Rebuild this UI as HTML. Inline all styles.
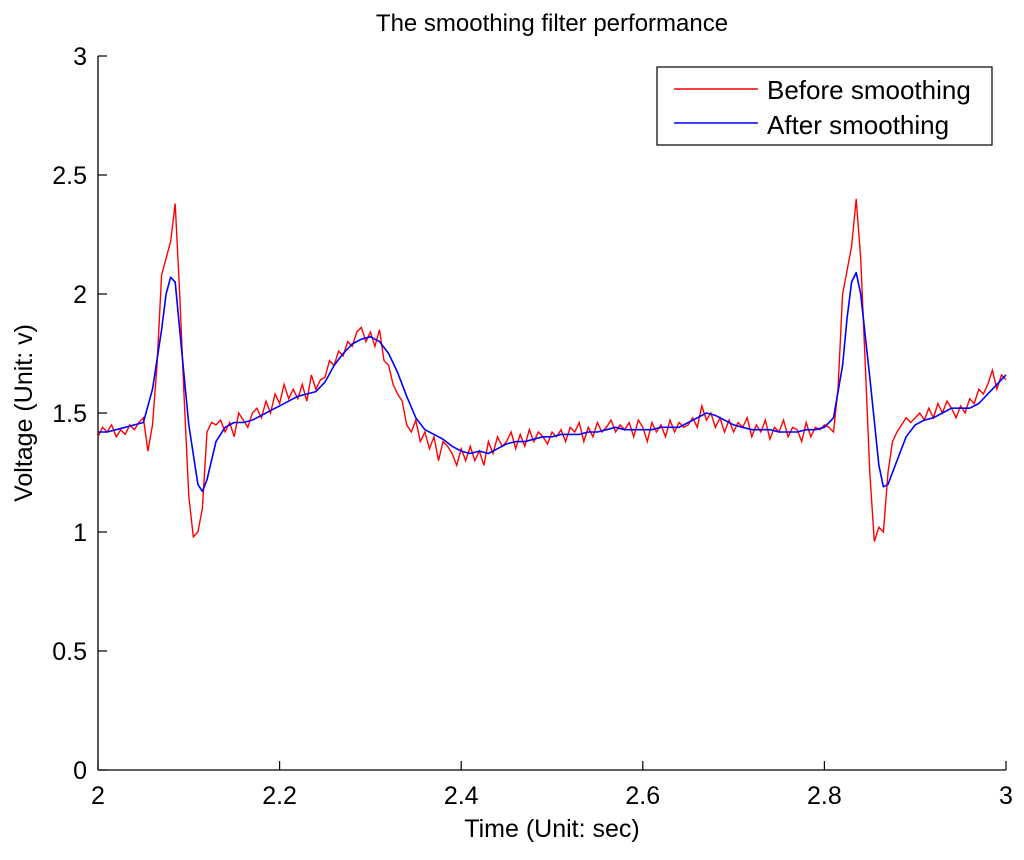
<!DOCTYPE html>
<html><head><meta charset="utf-8"><style>
body{margin:0;background:#fff;}
svg text{font-family:"Liberation Sans",sans-serif;fill:#000;}
</style></head><body>
<svg id="chart" width="1024" height="855" xmlns="http://www.w3.org/2000/svg">
<text x="552" y="31" font-size="24" text-anchor="middle">The smoothing filter performance</text>
<g id="axes"></g>
<g id="series"></g>
<g>
<rect x="657" y="67" width="335" height="78" fill="#fff" stroke="#000" stroke-width="1.2"/>
<line x1="674" y1="89" x2="758" y2="89" stroke="#f00" stroke-width="1.4"/>
<text x="767" y="99" font-size="26">Before smoothing</text>
<line x1="674" y1="123" x2="758" y2="123" stroke="#00f" stroke-width="1.4"/>
<text x="767" y="134" font-size="26">After smoothing</text>
</g>
<text x="552" y="837" font-size="25" text-anchor="middle">Time (Unit: sec)</text>
<text x="32" y="413" font-size="25" text-anchor="middle" transform="rotate(-90 32 413)">Voltage (Unit: v)</text>
</svg>
<script>
const xTicks=[2,2.2,2.4,2.6,2.8,3];
const xTickLabels=["2","2.2","2.4","2.6","2.8","3"];
const yTicks=[0,0.5,1,1.5,2,2.5,3];
const yTickLabels=["0","0.5","1","1.5","2","2.5","3"];
const redStart=2.0, redStep=0.005;
const redValues=[1.40,1.44,1.42,1.45,1.40,1.43,1.41,1.45,1.43,1.46,
1.48,1.34,1.45,1.70,2.08,2.15,2.22,2.38,2.00,1.55,
1.15,0.98,1.00,1.10,1.42,1.46,1.45,1.47,1.42,1.46,
1.40,1.50,1.47,1.44,1.50,1.52,1.48,1.55,1.50,1.58,
1.54,1.62,1.56,1.60,1.56,1.62,1.55,1.66,1.60,1.64,
1.65,1.72,1.70,1.76,1.74,1.80,1.78,1.84,1.86,1.80,
1.84,1.78,1.85,1.72,1.70,1.62,1.58,1.55,1.45,1.42,
1.47,1.38,1.42,1.35,1.40,1.30,1.38,1.36,1.33,1.28,
1.35,1.30,1.36,1.30,1.34,1.28,1.38,1.33,1.40,1.36,
1.38,1.42,1.35,1.41,1.36,1.43,1.38,1.42,1.40,1.37,
1.42,1.40,1.43,1.38,1.44,1.42,1.46,1.38,1.44,1.40,
1.46,1.42,1.44,1.47,1.42,1.45,1.43,1.46,1.40,1.47,
1.44,1.38,1.46,1.42,1.45,1.40,1.47,1.42,1.46,1.44,
1.45,1.48,1.44,1.53,1.47,1.50,1.44,1.48,1.42,1.47,
1.42,1.46,1.44,1.48,1.40,1.45,1.42,1.47,1.39,1.44,
1.42,1.47,1.40,1.44,1.43,1.38,1.46,1.40,1.44,1.43,
1.45,1.44,1.42,1.60,2.00,2.10,2.20,2.40,2.15,1.70,
1.25,0.96,1.02,1.00,1.25,1.38,1.42,1.45,1.48,1.46,
1.48,1.50,1.47,1.52,1.48,1.54,1.50,1.55,1.52,1.48,
1.53,1.50,1.56,1.54,1.60,1.58,1.62,1.68,1.60,1.66,1.64];
const blueTimes=[2.00,2.01,2.02,2.03,2.04,2.05,2.06,2.07,2.075,2.08,2.085,2.09,2.10,2.11,2.115,2.12,2.13,2.14,2.15,2.16,2.17,2.18,2.19,2.20,2.21,2.22,2.23,2.24,2.25,2.26,2.27,2.28,2.29,2.30,2.31,2.32,2.33,2.34,2.35,2.36,2.37,2.38,2.39,2.40,2.41,2.42,2.43,2.44,2.45,2.46,2.47,2.48,2.49,2.50,2.51,2.52,2.53,2.54,2.55,2.56,2.57,2.58,2.59,2.60,2.61,2.62,2.63,2.64,2.65,2.66,2.67,2.68,2.69,2.70,2.71,2.72,2.73,2.74,2.75,2.76,2.77,2.78,2.79,2.80,2.81,2.82,2.825,2.83,2.835,2.84,2.85,2.86,2.865,2.87,2.88,2.89,2.90,2.91,2.92,2.93,2.94,2.95,2.96,2.97,2.98,2.99,3.00];
const blueValues=[1.42,1.42,1.43,1.44,1.45,1.46,1.60,1.85,2.00,2.07,2.05,1.85,1.45,1.20,1.17,1.22,1.38,1.44,1.46,1.46,1.47,1.49,1.51,1.53,1.55,1.57,1.58,1.59,1.63,1.70,1.75,1.79,1.81,1.82,1.80,1.75,1.67,1.57,1.48,1.43,1.41,1.39,1.36,1.34,1.33,1.34,1.33,1.35,1.37,1.38,1.38,1.39,1.40,1.40,1.41,1.41,1.41,1.42,1.42,1.43,1.44,1.43,1.43,1.43,1.43,1.44,1.44,1.44,1.46,1.48,1.50,1.49,1.47,1.45,1.44,1.43,1.43,1.43,1.42,1.42,1.42,1.43,1.43,1.44,1.48,1.70,1.90,2.05,2.09,2.00,1.65,1.28,1.19,1.20,1.30,1.40,1.45,1.47,1.48,1.50,1.52,1.52,1.52,1.54,1.58,1.62,1.66];
const X0=98,X1=1006,Y0=770,Y1=56;
const sx=t=>X0+(t-2)*(X1-X0);
const sy=v=>Y0-v/3*(Y0-Y1);
const NS="http://www.w3.org/2000/svg";
const axes=document.getElementById('axes');
function mk(tag,attrs,parent){const e=document.createElementNS(NS,tag);for(const k in attrs)e.setAttribute(k,attrs[k]);parent.appendChild(e);return e;}
const xa=mk('line',{x1:X0,y1:Y0,x2:X1,y2:Y0,stroke:'#000','stroke-width':1.3},axes);


const ya=mk('line',{x1:X0,y1:Y0,x2:X0,y2:Y1,stroke:'#000','stroke-width':1.3},axes);


xTicks.forEach((t,i)=>{const x=sx(t);
 mk('line',{x1:x,y1:Y0,x2:x,y2:Y0-9,stroke:'#000','stroke-width':1.2},axes);
 const tx=mk('text',{x:x,y:Y0+34,'font-size':25,'text-anchor':'middle'},axes);tx.textContent=xTickLabels[i];
 
 });
yTicks.forEach((v,i)=>{const y=sy(v);
 mk('line',{x1:X0,y1:y,x2:X0+9,y2:y,stroke:'#000','stroke-width':1.2},axes);
 const tx=mk('text',{x:X0-11,y:y+9,'font-size':25,'text-anchor':'end'},axes);tx.textContent=yTickLabels[i];
 
 });
const ser=document.getElementById('series');
const rp=redValues.map((v,i)=>sx(redStart+i*redStep).toFixed(1)+','+sy(v).toFixed(1)).join(' ');
const red=mk('polyline',{points:rp,fill:'none',stroke:'#f00','stroke-width':1.4},ser);


const bp=blueValues.map((v,i)=>sx(blueTimes[i]).toFixed(1)+','+sy(v).toFixed(1)).join(' ');
const blue=mk('polyline',{points:bp,fill:'none',stroke:'#00f','stroke-width':1.6,'stroke-linejoin':'round'},ser);


</script>
</body></html>
